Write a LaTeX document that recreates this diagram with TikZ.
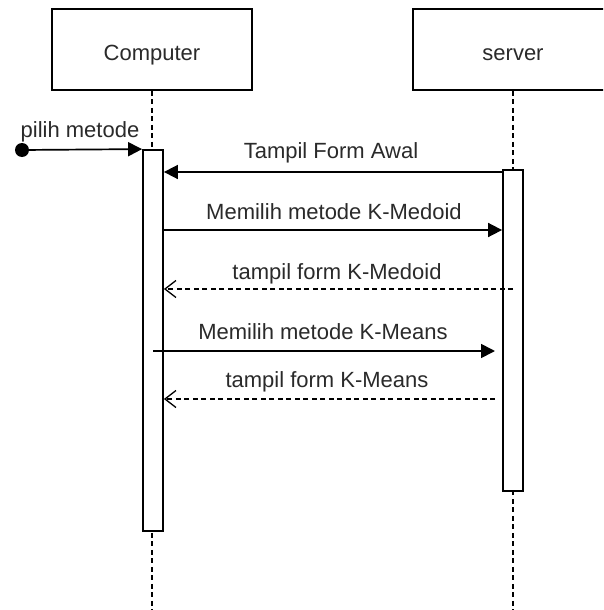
\documentclass[tikz,border=0pt]{standalone}
\usepackage{fontspec}
\setmainfont{Liberation Sans}
\usetikzlibrary{arrows.meta}
\definecolor{txt}{HTML}{2A2A2A}
\tikzset{
  lbl/.style={font=\fontsize{22}{26}\selectfont, text=txt, anchor=base, inner sep=0pt},
  headbox/.style={draw, line width=1.8pt, fill=white, minimum width=200pt, minimum height=81pt, inner sep=0pt},
  actbar/.style={draw, line width=1.8pt, fill=white, minimum width=20pt, inner sep=0pt},
  life/.style={line width=1.7pt, dash pattern=on 5pt off 3.5pt},
  msg/.style={line width=1.7pt, -{Triangle[length=14pt,width=14pt]}},
  reply/.style={line width=1.3pt, dash pattern=on 5pt off 3.5pt, -{Straight Barb[length=11pt,width=17pt,line width=1.3pt]}},
}
\begin{document}
\begin{tikzpicture}[x=1pt,y=-1pt]
\clip (0,0) rectangle (603,610);
\fill[white] (0,0) rectangle (603,610);
% heads
\node[headbox] (comp) at (152,49.5) {};
\node[headbox] (serv) at (513,49.5) {};
\node[lbl] (tcomp) at (152,60) {Computer};
\node[lbl] (tserv) at (513,60) {server};
% bottom ends of lifelines
\coordinate (endC) at (152,610);
\coordinate (endS) at (513,610);
% lifelines and activation bars
\draw[life] (comp.south) -- (endC);
\draw[life] (serv.south) -- (endS);
\node[actbar, minimum height=381pt] (actC) at (153,340.5) {};
\node[actbar, minimum height=321pt] (actS) at (513,330.5) {};
% message levels
\coordinate (start) at (22,150);
\coordinate (y1) at (0,172);
\coordinate (y2) at (0,230);
\coordinate (y3) at (0,289);
\coordinate (y4) at (0,351);
\coordinate (y5) at (0,399);
\coordinate (e4) at (495,351);
\coordinate (e5) at (495,399);
% found message
\fill (start) circle (7pt);
\draw[msg] (start) -- (actC.north west);
\node[lbl] (l0) at (80,137) {pilih metode};
% messages
\draw[msg] (actS.west |- y1) -- (actC.east |- y1);
\node[lbl] (l1) at (331,158) {Tampil Form Awal};
\draw[msg] (actC.east |- y2) -- (actS.west |- y2);
\node[lbl] (l2) at (334,219) {Memilih metode K-Medoid};
\draw[reply] (actS.center |- y3) -- (actC.east |- y3);
\node[lbl] (l3) at (337,279) {tampil form K-Medoid};
\draw[msg] (actC.center |- y4) -- (e4);
\node[lbl] (l4) at (323,339) {Memilih metode K-Means};
\draw[reply] (e5) -- (actC.east |- y5);
\node[lbl] (l5) at (327,387) {tampil form K-Means};
\end{tikzpicture}
\end{document}
